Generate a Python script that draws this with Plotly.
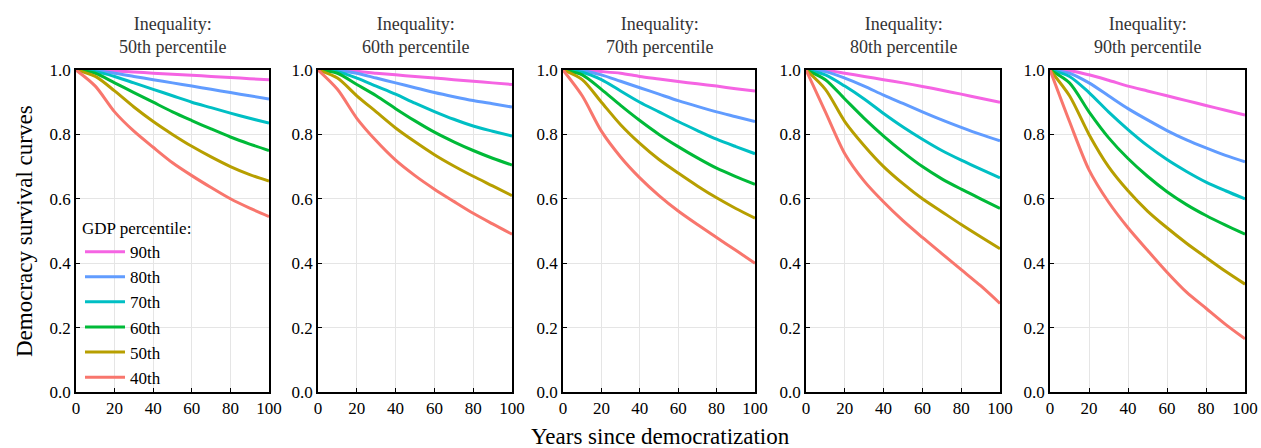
import plotly.graph_objects as go

years = [0, 10, 20, 30, 40, 50, 60, 70, 80, 90, 100]
gdp_labels = ["90th", "80th", "70th", "60th", "50th", "40th"]
colors = ["#F564E3", "#619CFF", "#00BFC4", "#00BA38", "#B79F00", "#F8766D"]
panel_titles = ["Inequality:<br>50th percentile", "Inequality:<br>60th percentile",
                "Inequality:<br>70th percentile", "Inequality:<br>80th percentile",
                "Inequality:<br>90th percentile"]

# survival values per panel, order: 90th, 80th, 70th, 60th, 50th, 40th
p50 = [
    [1, .999, .997, .994, .99, .987, .984, .98, .977, .973, .97],
    [1, .998, .99, .98, .97, .96, .95, .94, .93, .92, .91],
    [1, .995, .98, .96, .94, .92, .90, .883, .866, .85, .835],
    [1, .99, .96, .93, .90, .87, .843, .817, .792, .77, .75],
    [1, .98, .935, .885, .84, .80, .763, .73, .70, .675, .655],
    [1, .95, .87, .81, .76, .712, .672, .635, .60, .571, .545],
]
p60 = [
    [1, .999, .996, .99, .985, .98, .975, .97, .965, .96, .955],
    [1, .998, .99, .975, .96, .945, .93, .917, .905, .895, .885],
    [1, .995, .975, .95, .925, .897, .871, .847, .826, .81, .795],
    [1, .99, .955, .92, .88, .842, .807, .777, .75, .726, .705],
    [1, .975, .92, .87, .82, .777, .737, .702, .67, .64, .61],
    [1, .94, .85, .78, .72, .672, .63, .592, .555, .522, .49],
]
p70 = [
    [1, .999, .995, .99, .98, .972, .964, .957, .95, .942, .935],
    [1, .998, .985, .965, .945, .925, .905, .887, .87, .855, .84],
    [1, .993, .97, .935, .90, .87, .84, .812, .785, .762, .74],
    [1, .985, .94, .89, .843, .80, .762, .727, .695, .669, .645],
    [1, .97, .90, .83, .772, .722, .68, .64, .603, .57, .54],
    [1, .92, .81, .73, .665, .61, .562, .52, .48, .44, .40],
]
p80 = [
    [1, .999, .99, .98, .97, .96, .949, .937, .925, .912, .90],
    [1, .995, .975, .95, .922, .896, .87, .845, .822, .80, .78],
    [1, .985, .95, .91, .865, .823, .785, .75, .72, .692, .665],
    [1, .97, .91, .85, .795, .745, .70, .662, .63, .60, .57],
    [1, .94, .84, .765, .70, .647, .60, .56, .52, .482, .445],
    [1, .87, .74, .655, .59, .532, .48, .43, .38, .33, .275],
]
p90 = [
    [1, .998, .985, .968, .95, .935, .92, .905, .89, .875, .86],
    [1, .99, .96, .92, .88, .845, .812, .783, .758, .735, .715],
    [1, .98, .93, .87, .815, .765, .722, .685, .652, .625, .60],
    [1, .96, .87, .79, .725, .67, .622, .582, .548, .518, .49],
    [1, .92, .80, .70, .625, .562, .51, .462, .418, .375, .335],
    [1, .84, .69, .59, .51, .44, .372, .31, .26, .21, .165],
]
panels = [p50, p60, p70, p80, p90]

W, H = 1261, 448
xdom = [(76, 269), (318, 512), (563, 755), (806, 1000), (1050, 1245)]
ytop, ybot = 70, 392
font = "Liberation Serif"

def px(x):
    return x / W

def py(y):
    return 1 - y / H

fig = go.Figure()
for i, pdata in enumerate(panels):
    n = "" if i == 0 else str(i + 1)
    for j, vals in enumerate(pdata):
        fig.add_trace(go.Scatter(
            x=years, y=vals, mode="lines",
            line=dict(color=colors[j], width=3, shape="spline", smoothing=0.8),
            name=gdp_labels[j], showlegend=(i == 0), xaxis="x" + n, yaxis="y" + n))
    ax = dict(domain=[px(xdom[i][0]), px(xdom[i][1])], range=[0, 100], tickvals=[0, 20, 40, 60, 80, 100],
              showline=True, linecolor="black", linewidth=1.5, mirror=True, ticks="inside", ticklen=4,
              tickcolor="black", showgrid=True, gridcolor="#e5e5e5", zeroline=False, automargin=False,
              tickfont=dict(family=font, size=17, color="black"), anchor="y" + n)
    ay = dict(domain=[py(ybot), py(ytop)], range=[0, 1], tickvals=[0, .2, .4, .6, .8, 1.0],
              tickformat=".1f", showline=True, linecolor="black", linewidth=1.5, mirror=True,
              ticks="inside", ticklen=4, tickcolor="black", showgrid=True, gridcolor="#e5e5e5",
              zeroline=False, automargin=False, tickfont=dict(family=font, size=17, color="black"),
              anchor="x" + n)
    fig.layout["xaxis" + n] = ax
    fig.layout["yaxis" + n] = ay
    fig.add_annotation(text=panel_titles[i], xref="paper", yref="paper", xanchor="center",
                       x=px((xdom[i][0] + xdom[i][1]) / 2), y=py(12), yanchor="top", showarrow=False,
                       font=dict(family=font, size=18, color="#333333"))

fig.add_annotation(text="Democracy survival curves", xref="paper", yref="paper", x=px(24), y=py(231),
                   xanchor="center", yanchor="middle",
                   textangle=-90, showarrow=False, font=dict(family=font, size=23, color="black"))
fig.add_annotation(text="Years since democratization", xref="paper", yref="paper", x=px(660), y=py(436),
                   xanchor="center", yanchor="middle",
                   showarrow=False, font=dict(family=font, size=23, color="black"))

fig.update_layout(
    width=W, height=H, margin=dict(l=0, r=0, t=0, b=0), plot_bgcolor="white", paper_bgcolor="white",
    legend=dict(x=px(80), y=py(212), xanchor="left", yanchor="top", bgcolor="rgba(0,0,0,0)",
                title=dict(text="GDP percentile:", font=dict(family=font, size=17, color="black")),
                font=dict(family=font, size=17, color="black"), tracegroupgap=0, itemwidth=40),
)
fig.write_html("out.html", config={"displayModeBar": False},
               post_script="document.body.style.margin='0';document.body.style.overflow='hidden';")
